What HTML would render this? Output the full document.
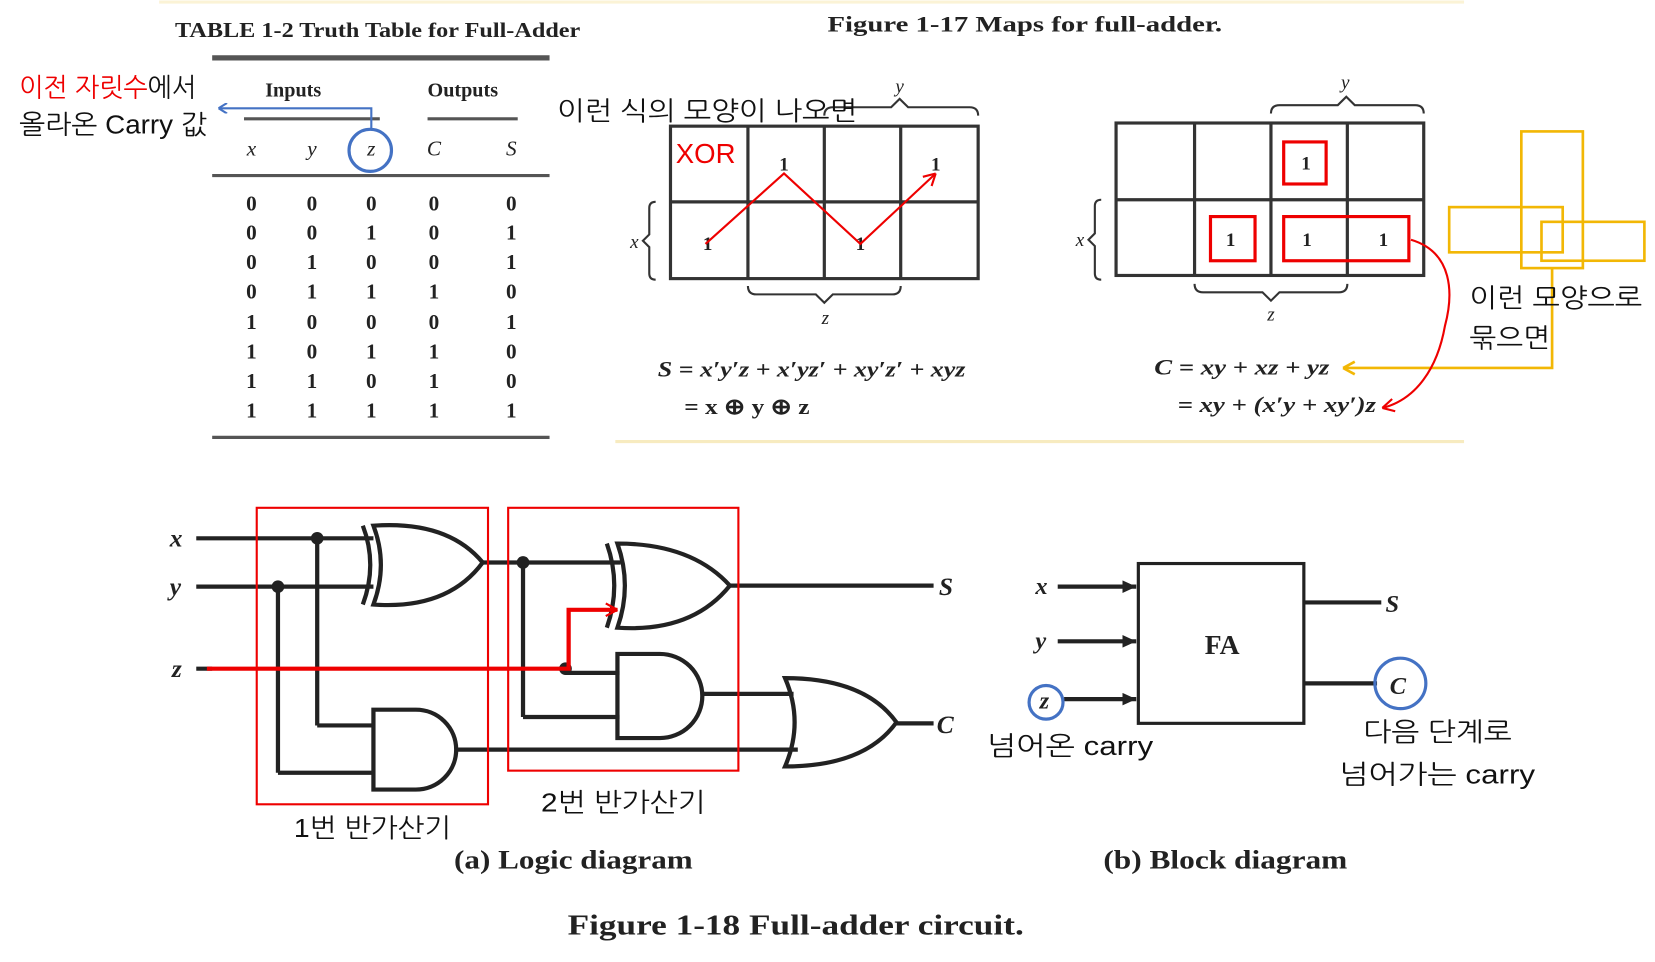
<!DOCTYPE html>
<html><head><meta charset="utf-8"><style>
html,body{margin:0;padding:0;background:#fff;}
svg{display:block;}
.s{font-family:"Liberation Serif",serif;fill:#222;}
.k{font-family:"Liberation Sans","NanumGothic","Noto Sans CJK KR",sans-serif;font-size:25px;fill:#111;}
</style></head><body>
<svg width="1655" height="962" viewBox="0 0 1560 915" preserveAspectRatio="none" xmlns="http://www.w3.org/2000/svg">
<defs>
<marker id="ab" markerWidth="10" markerHeight="10" refX="9" refY="5" orient="auto" markerUnits="userSpaceOnUse"><path d="M9,5 L1,0 M9,5 L1,10" stroke="#4472c4" stroke-width="2" fill="none"/></marker>
<marker id="ar" markerWidth="14" markerHeight="14" refX="12" refY="7" orient="auto" markerUnits="userSpaceOnUse"><path d="M12,7 L1,1 M12,7 L1,13" stroke="#e00" stroke-width="2" fill="none"/></marker>
<marker id="ay" markerWidth="14" markerHeight="14" refX="12" refY="7" orient="auto" markerUnits="userSpaceOnUse"><path d="M12,7 L1,1 M12,7 L1,13" stroke="#f2b705" stroke-width="2.5" fill="none"/></marker>
<marker id="ak" markerWidth="14" markerHeight="12" refX="13" refY="6" orient="auto" markerUnits="userSpaceOnUse"><path d="M13,6 L0,0 L0,12 Z" fill="#222"/></marker>
</defs>
<rect width="1560" height="915" fill="#fff"/>
<line x1="150" y1="2" x2="1380" y2="2" stroke="#fbf3d6" stroke-width="3"/>
<line x1="580" y1="420" x2="1380" y2="420" stroke="#f7ebc0" stroke-width="3"/>

<!-- Truth table -->
<text x="165" y="35" class="s" font-size="20" font-weight="bold" textLength="382" lengthAdjust="spacingAndGlyphs">TABLE 1-2  Truth Table for Full-Adder</text>
<line x1="200" y1="55" x2="518" y2="55" stroke="#555" stroke-width="5"/>
<text x="250" y="92" class="s" font-size="19" font-weight="bold">Inputs</text>
<text x="403" y="92" class="s" font-size="19" font-weight="bold">Outputs</text>
<line x1="230" y1="113" x2="358" y2="113" stroke="#555" stroke-width="3"/>
<line x1="403" y1="113" x2="488" y2="113" stroke="#555" stroke-width="3"/>
<g class="s" font-size="20" font-style="italic" text-anchor="middle">
<text x="237" y="148">x</text><text x="294" y="148">y</text><text x="350" y="148">z</text><text x="409" y="148">C</text><text x="482" y="148">S</text></g>
<line x1="200" y1="167" x2="518" y2="167" stroke="#555" stroke-width="3"/>
<g class="s" font-size="20" font-weight="bold" text-anchor="middle">
<text x="237" y="200">0</text><text x="294" y="200">0</text><text x="350" y="200">0</text><text x="409" y="200">0</text><text x="482" y="200">0</text>
<text x="237" y="228">0</text><text x="294" y="228">0</text><text x="350" y="228">1</text><text x="409" y="228">0</text><text x="482" y="228">1</text>
<text x="237" y="256">0</text><text x="294" y="256">1</text><text x="350" y="256">0</text><text x="409" y="256">0</text><text x="482" y="256">1</text>
<text x="237" y="284">0</text><text x="294" y="284">1</text><text x="350" y="284">1</text><text x="409" y="284">1</text><text x="482" y="284">0</text>
<text x="237" y="313">1</text><text x="294" y="313">0</text><text x="350" y="313">0</text><text x="409" y="313">0</text><text x="482" y="313">1</text>
<text x="237" y="341">1</text><text x="294" y="341">0</text><text x="350" y="341">1</text><text x="409" y="341">1</text><text x="482" y="341">0</text>
<text x="237" y="369">1</text><text x="294" y="369">1</text><text x="350" y="369">0</text><text x="409" y="369">1</text><text x="482" y="369">0</text>
<text x="237" y="397">1</text><text x="294" y="397">1</text><text x="350" y="397">1</text><text x="409" y="397">1</text><text x="482" y="397">1</text></g>
<line x1="200" y1="416" x2="518" y2="416" stroke="#555" stroke-width="3"/>
<circle cx="349" cy="143" r="20" fill="none" stroke="#4472c4" stroke-width="3"/>
<polyline points="350,122 350,103 206,103" fill="none" stroke="#4472c4" stroke-width="2" marker-end="url(#ab)"/>
<text x="18" y="92" class="k" textLength="167" lengthAdjust="spacingAndGlyphs"><tspan fill="#e00">이전 자릿수</tspan>에서</text>
<text x="18" y="127" class="k" textLength="177" lengthAdjust="spacingAndGlyphs">올라온 Carry 값</text>

<!-- Figure 1-17 -->
<text x="780" y="30" class="s" font-size="21" font-weight="bold" textLength="372" lengthAdjust="spacingAndGlyphs">Figure 1-17   Maps for full-adder.</text>
<g stroke="#333" stroke-width="3" fill="none">
<rect x="632" y="120" width="290" height="145"/>
<line x1="632" y1="192" x2="922" y2="192"/>
<line x1="705" y1="120" x2="705" y2="265"/><line x1="777" y1="120" x2="777" y2="265"/><line x1="849" y1="120" x2="849" y2="265"/>
<path d="M777,110 q0,-8 8,-8 h55 l8,-8 l8,8 h58 q8,0 8,8" stroke-width="2"/>
<path d="M618,192 q-6,0 -6,6 v25 l-6,6 l6,6 v25 q0,6 6,6" stroke-width="2"/>
<path d="M705,272 q0,8 8,8 h56 l8,8 l8,-8 h56 q8,0 8,-8" stroke-width="2"/>
<rect x="1052" y="117" width="290" height="145"/>
<line x1="1052" y1="190" x2="1342" y2="190"/>
<line x1="1126" y1="117" x2="1126" y2="262"/><line x1="1198" y1="117" x2="1198" y2="262"/><line x1="1270" y1="117" x2="1270" y2="262"/>
<path d="M1198,108 q0,-8 8,-8 h55 l8,-8 l8,8 h57 q8,0 8,8" stroke-width="2"/>
<path d="M1038,190 q-6,0 -6,6 v26 l-6,6 l6,6 v26 q0,6 6,6" stroke-width="2"/>
<path d="M1126,270 q0,8 8,8 h56 l8,8 l8,-8 h56 q8,0 8,-8" stroke-width="2"/>
</g>
<g class="s" font-size="18" font-style="italic" text-anchor="middle">
<text x="848" y="88">y</text><text x="598" y="236">x</text><text x="778" y="308">z</text>
<text x="1268" y="84">y</text><text x="1018" y="234">x</text><text x="1198" y="305">z</text></g>
<g class="s" font-size="18" font-weight="bold" text-anchor="middle">
<text x="739" y="162">1</text><text x="882" y="162">1</text><text x="667" y="238">1</text><text x="811" y="238">1</text>
<text x="1231" y="161">1</text><text x="1160" y="234">1</text><text x="1232" y="234">1</text><text x="1304" y="234">1</text></g>
<polyline points="665,232 739,165 811,232 882,165" fill="none" stroke="#e00" stroke-width="2" marker-end="url(#ar)"/>
<text x="637" y="155" font-family="Liberation Sans,sans-serif" font-size="26" fill="#e00">XOR</text>
<text x="525" y="114" class="k" textLength="283" lengthAdjust="spacingAndGlyphs">이런 식의 모양이 나오면</text>
<text x="620" y="358" class="s" font-size="21" font-style="italic" font-weight="bold" textLength="290" lengthAdjust="spacingAndGlyphs">S = x′y′z + x′yz′ + xy′z′ + xyz</text>
<text x="645" y="394" class="s" font-size="21" font-weight="bold" textLength="118" lengthAdjust="spacingAndGlyphs">= x ⊕ y ⊕ z</text>
<g fill="none" stroke="#e00" stroke-width="3">
<rect x="1210" y="135" width="40" height="40"/><rect x="1141" y="206" width="42" height="42"/><rect x="1210" y="206" width="118" height="42"/></g>
<g fill="none" stroke="#f2b705" stroke-width="2.5">
<rect x="1434" y="125" width="58" height="130"/><rect x="1366" y="197" width="107" height="43"/><rect x="1453" y="211" width="97" height="37"/></g>
<polyline points="1463,255 1463,350 1266,350" fill="none" stroke="#f2b705" stroke-width="2.5" marker-end="url(#ay)"/>
<path d="M1330,228 C1370,240 1370,280 1362,310 C1355,350 1335,380 1303,388" fill="none" stroke="#e00" stroke-width="2" marker-end="url(#ar)"/>
<text x="1385" y="292" class="k" textLength="163" lengthAdjust="spacingAndGlyphs">이런 모양으로</text>
<text x="1385" y="330" class="k" textLength="76" lengthAdjust="spacingAndGlyphs">묶으면</text>
<text x="1088" y="356" class="s" font-size="21" font-style="italic" font-weight="bold" textLength="165" lengthAdjust="spacingAndGlyphs">C = xy + xz + yz</text>
<text x="1110" y="392" class="s" font-size="21" font-style="italic" font-weight="bold" textLength="187" lengthAdjust="spacingAndGlyphs">= xy + (x′y + xy′)z</text>

<!-- Logic diagram -->
<g stroke="#222" stroke-width="4" fill="none">
<line x1="185" y1="512" x2="352" y2="512"/><line x1="185" y1="558" x2="352" y2="558"/>
<line x1="185" y1="636" x2="200" y2="636"/>
<path d="M342,500 q14,37 0,75"/>
<path d="M352,500 q14,37 0,75 q70,5 103,-40 q-33,-40 -103,-35 z"/>
<line x1="455" y1="535" x2="585" y2="535"/>
<line x1="299" y1="512" x2="299" y2="690"/><line x1="299" y1="690" x2="352" y2="690"/>
<line x1="262" y1="558" x2="262" y2="735"/><line x1="262" y1="735" x2="352" y2="735"/>
<path d="M352,675 h40 a38,38 0 0 1 0,76 h-40 z"/>
<path d="M572,517 q14,40 0,80"/>
<path d="M582,517 q14,40 0,80 q70,5 106,-40 q-36,-40 -106,-40 z"/>
<line x1="688" y1="557" x2="880" y2="557"/>
<line x1="493" y1="535" x2="493" y2="682"/><line x1="493" y1="682" x2="584" y2="682"/>
<line x1="533" y1="636" x2="533" y2="640"/><line x1="533" y1="640" x2="584" y2="640"/>
<path d="M582,622 h40 a40,40 0 0 1 0,80 h-40 z"/>
<line x1="662" y1="660" x2="748" y2="660"/>
<line x1="430" y1="713" x2="752" y2="713"/>
<path d="M740,645 q18,42 0,84 q75,0 105,-42 q-30,-42 -105,-42 z"/>
<line x1="845" y1="688" x2="880" y2="688"/>
</g>
<g fill="#222"><circle cx="299" cy="512" r="6"/><circle cx="262" cy="558" r="6"/><circle cx="493" cy="535" r="6"/><circle cx="533" cy="636" r="6"/></g>
<polyline points="195,636 536,636 536,580 582,580" fill="none" stroke="#e00" stroke-width="4" marker-end="url(#ar)"/>
<g class="s" font-size="24" font-style="italic" font-weight="bold">
<text x="160" y="520">x</text><text x="160" y="566">y</text><text x="162" y="644">z</text>
<text x="885" y="566">S</text><text x="883" y="697">C</text></g>
<g fill="none" stroke="#e00" stroke-width="2"><rect x="242" y="483" width="218" height="282"/><rect x="479" y="483" width="217" height="250"/></g>
<text x="277" y="796" class="k" textLength="148" lengthAdjust="spacingAndGlyphs">1번 반가산기</text>
<text x="510" y="772" class="k" textLength="155" lengthAdjust="spacingAndGlyphs">2번 반가산기</text>
<text x="428" y="826" class="s" font-size="25" font-weight="bold" textLength="225" lengthAdjust="spacingAndGlyphs">(a) Logic diagram</text>

<!-- Block diagram -->
<rect x="1073" y="536" width="156" height="152" fill="none" stroke="#222" stroke-width="3"/>
<text x="1152" y="622" class="s" font-size="26" font-weight="bold" text-anchor="middle">FA</text>
<g stroke="#222" stroke-width="4">
<line x1="997" y1="558" x2="1071" y2="558" marker-end="url(#ak)"/>
<line x1="997" y1="610" x2="1071" y2="610" marker-end="url(#ak)"/>
<line x1="1003" y1="665" x2="1071" y2="665" marker-end="url(#ak)"/>
<line x1="1229" y1="573" x2="1302" y2="573"/><line x1="1229" y1="650" x2="1298" y2="650"/></g>
<g class="s" font-size="23" font-style="italic" font-weight="bold">
<text x="976" y="565">x</text><text x="976" y="617">y</text><text x="980" y="674">z</text>
<text x="1306" y="582">S</text><text x="1310" y="660">C</text></g>
<circle cx="986" cy="668" r="16" fill="none" stroke="#4472c4" stroke-width="3"/>
<circle cx="1320" cy="650" r="24" fill="none" stroke="#4472c4" stroke-width="3"/>
<text x="930" y="718" class="k" textLength="157" lengthAdjust="spacingAndGlyphs">넘어온 carry</text>
<text x="1285" y="705" class="k" textLength="140" lengthAdjust="spacingAndGlyphs">다음 단계로</text>
<text x="1262" y="745" class="k" textLength="185" lengthAdjust="spacingAndGlyphs">넘어가는 carry</text>
<text x="1040" y="826" class="s" font-size="25" font-weight="bold" textLength="230" lengthAdjust="spacingAndGlyphs">(b) Block diagram</text>
<text x="535" y="889" class="s" font-size="27" font-weight="bold" textLength="430" lengthAdjust="spacingAndGlyphs">Figure 1-18    Full-adder circuit.</text>
</svg>
</body></html>
